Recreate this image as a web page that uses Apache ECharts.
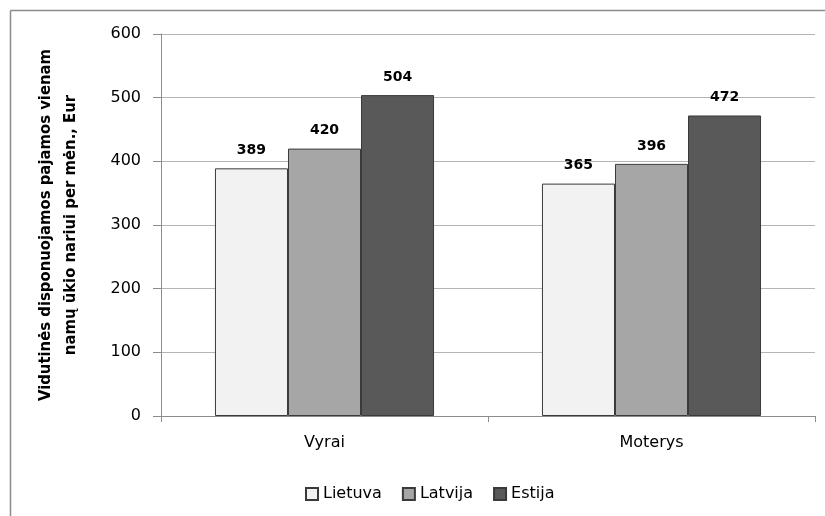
<!DOCTYPE html>
<html><head><meta charset="utf-8">
<script src="https://cdn.jsdelivr.net/npm/echarts@6/dist/echarts.min.js"></script>
<style>html,body{margin:0;padding:0;background:#fff}#c{width:825px;height:516px}</style>
</head><body><div id="c"></div>
<script>
var categories = ['Vyrai', 'Moterys'];
var lietuva = [389, 365];
var latvija = [420, 396];
var estija = [504, 472];
var yTicks = [0, 100, 200, 300, 400, 500, 600];
var yTitle = 'Vidutinės disponuojamos pajamos vienam\nnamų ūkio nariui per mėn., Eur';

var chart = echarts.init(document.getElementById('c'));
var font = 'DejaVu Sans';
function ser(name, data, color) {
  return {
    name: name, type: 'bar', data: data, barGap: '0%', barCategoryGap: '33%',
    itemStyle: { color: color, borderColor: '#3a3a3a', borderWidth: 1 },
    label: { show: true, position: 'top', distance: 11, fontFamily: font, fontWeight: 'bold', fontSize: 14, color: '#000' }
  };
}
chart.setOption({
  animation: false,
  backgroundColor: '#fff',
  graphic: [
    { type: 'line', shape: { x1: 10.5, y1: 10.5, x2: 825, y2: 10.5 }, style: { stroke: '#8c8c8c', lineWidth: 1.5 } },
    { type: 'line', shape: { x1: 10.5, y1: 10.5, x2: 10.5, y2: 516 }, style: { stroke: '#8c8c8c', lineWidth: 1.5 } }
  ],
  grid: { left: 161, right: 10, top: 34, bottom: 100, containLabel: false },
  legend: {
    left: 300, top: 481, itemWidth: 12, itemHeight: 12, itemGap: 20,
    icon: 'rect',
    textStyle: { fontFamily: font, fontSize: 16, color: '#000' },
    data: ['Lietuva', 'Latvija', 'Estija']
  },
  xAxis: {
    type: 'category', data: categories,
    axisLine: { lineStyle: { color: '#8c8c8c' } },
    axisTick: { show: true, length: 6, lineStyle: { color: '#8c8c8c' } },
    axisLabel: { fontFamily: font, fontSize: 16, color: '#000', margin: 19 }
  },
  yAxis: {
    type: 'value', min: yTicks[0], max: yTicks[yTicks.length - 1], interval: 100,
    name: yTitle, nameLocation: 'middle', nameRotate: 90, nameGap: 78,
    nameTextStyle: { fontFamily: 'DejaVu Sans Condensed', fontWeight: 'bold', fontSize: 16.5, color: '#000', lineHeight: 25 },
    axisLine: { show: true, lineStyle: { color: '#8c8c8c' } },
    axisTick: { show: true, length: 8, lineStyle: { color: '#8c8c8c' } },
    axisLabel: { fontFamily: font, fontSize: 16, color: '#000', margin: 20 },
    splitLine: { lineStyle: { color: '#b4b4b4' } }
  },
  series: [ser('Lietuva', lietuva, '#f2f2f2'), ser('Latvija', latvija, '#a6a6a6'), ser('Estija', estija, '#595959')]
});
</script></body></html>
